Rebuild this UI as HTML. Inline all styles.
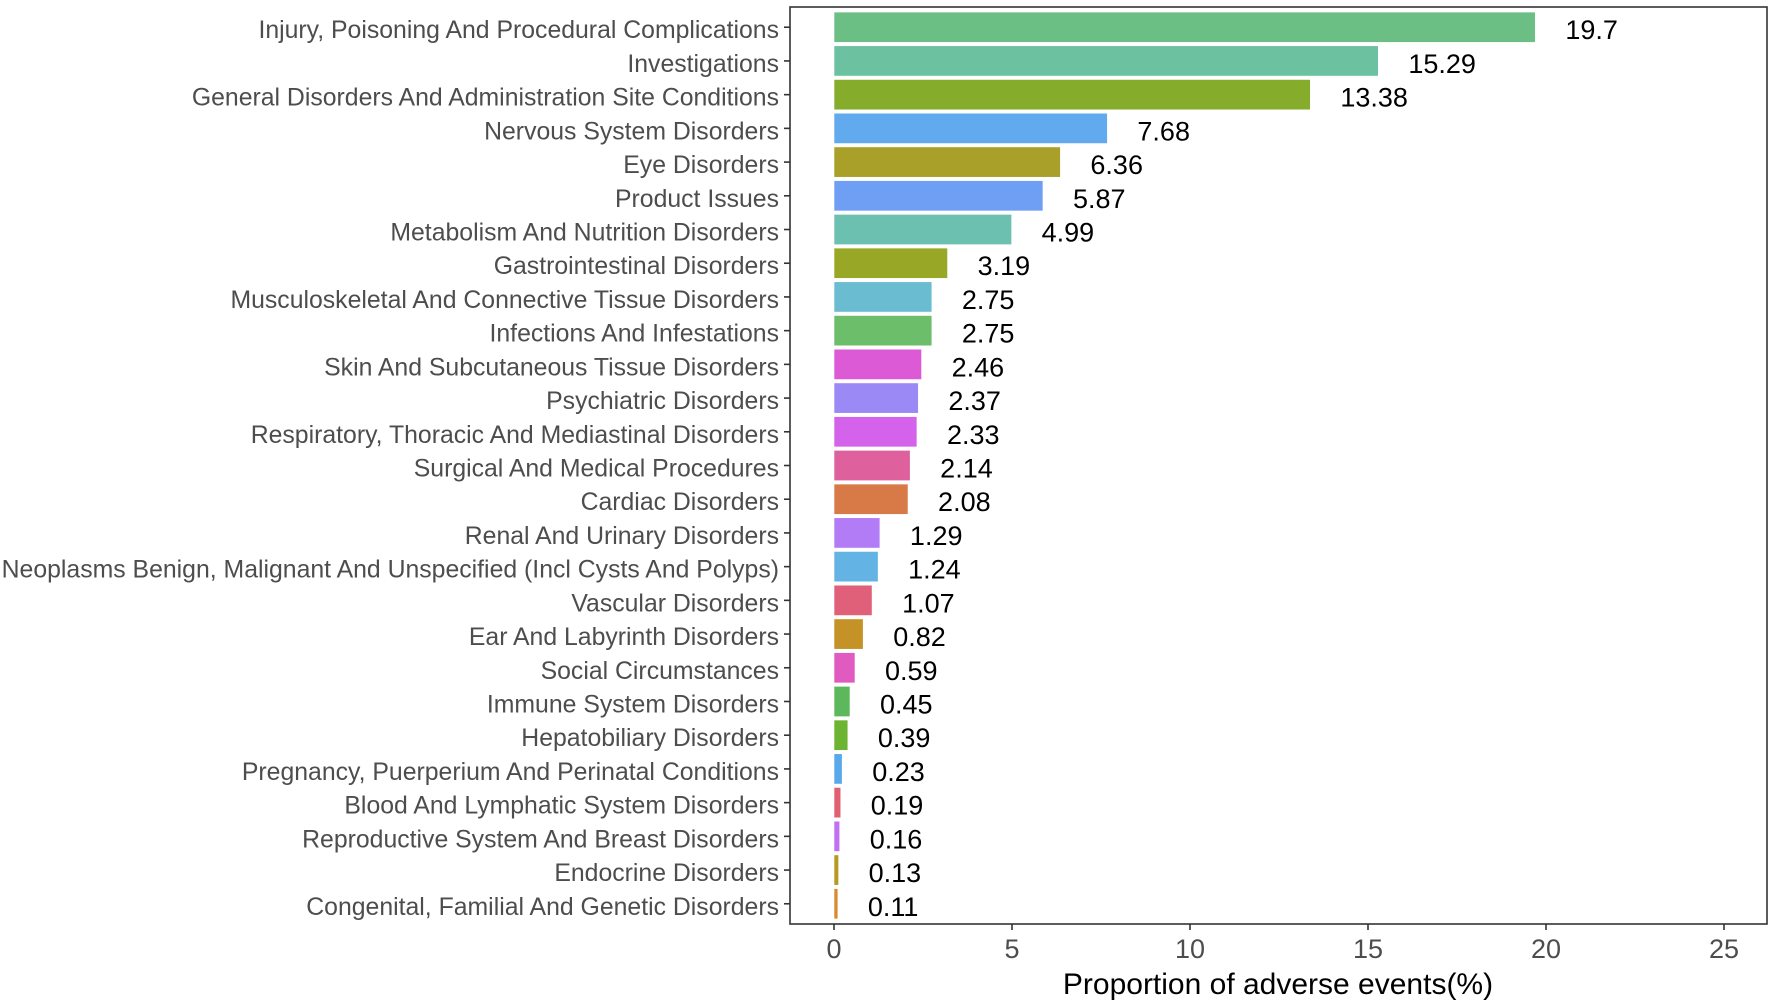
<!DOCTYPE html>
<html><head><meta charset="utf-8"><style>
html,body{margin:0;padding:0;background:#fff;}
svg{display:block;font-family:"Liberation Sans",sans-serif;}
</style></head><body>
<svg id="chart" width="1772" height="1007">
<rect x="790" y="7" width="977" height="917" fill="none" stroke="#333" stroke-width="1.6"/>
<g id="bars"></g><g id="xaxis"></g>
<text x="1278" y="994" font-size="30" text-anchor="middle" fill="#000">Proportion of adverse events(%)</text>
</svg>
<script>
const categories=["Injury, Poisoning And Procedural Complications","Investigations","General Disorders And Administration Site Conditions","Nervous System Disorders","Eye Disorders","Product Issues","Metabolism And Nutrition Disorders","Gastrointestinal Disorders","Musculoskeletal And Connective Tissue Disorders","Infections And Infestations","Skin And Subcutaneous Tissue Disorders","Psychiatric Disorders","Respiratory, Thoracic And Mediastinal Disorders","Surgical And Medical Procedures","Cardiac Disorders","Renal And Urinary Disorders","Neoplasms Benign, Malignant And Unspecified (Incl Cysts And Polyps)","Vascular Disorders","Ear And Labyrinth Disorders","Social Circumstances","Immune System Disorders","Hepatobiliary Disorders","Pregnancy, Puerperium And Perinatal Conditions","Blood And Lymphatic System Disorders","Reproductive System And Breast Disorders","Endocrine Disorders","Congenital, Familial And Genetic Disorders"];
const values=[19.7,15.29,13.38,7.68,6.36,5.87,4.99,3.19,2.75,2.75,2.46,2.37,2.33,2.14,2.08,1.29,1.24,1.07,0.82,0.59,0.45,0.39,0.23,0.19,0.16,0.13,0.11];
const valueLabels=["19.7","15.29","13.38","7.68","6.36","5.87","4.99","3.19","2.75","2.75","2.46","2.37","2.33","2.14","2.08","1.29","1.24","1.07","0.82","0.59","0.45","0.39","0.23","0.19","0.16","0.13","0.11"];
const colors=["#6cbf84","#6cc2a0","#86ac2c","#62aaee","#a8a028","#6f9ef5","#6cc0b0","#98a826","#6abdd0","#6cbe6a","#dc5ad6","#9b8af5","#d462ea","#de609c","#d87a48","#b17cf5","#63b4e4","#e0607a","#c49226","#e05ac0","#5cb85a","#6cb432","#5aa8ec","#e06070","#c070f0","#b89a20","#d88a30"];
const xTicks=[0,5,10,15,20,25];
const xTickLabels=["0","5","10","15","20","25"];
const NS="http://www.w3.org/2000/svg";
const x=v=>834+v*35.6;
const n=categories.length;
const y=i=>7+(917)*(i+0.6)/(n+0.2);
const step=917/(n+0.2);
const bars=document.getElementById('bars');
function mk(tag,attrs,parent){const e=document.createElementNS(NS,tag);for(const k in attrs)e.setAttribute(k,attrs[k]);parent.appendChild(e);return e;}
categories.forEach((c,i)=>{
  const cy=y(i),h=step*0.9;
  const r=mk('rect',{x:x(0),y:cy-h/2,width:x(values[i])-x(0),height:h,fill:colors[i],stroke:'#fff','stroke-width':0.6},bars);
  
  
  const t=mk('text',{x:x(values[i])+30,y:cy+12,'font-size':27,fill:'#000'},bars);
  t.textContent=valueLabels[i];
  
  
  const l=mk('text',{x:779,y:cy+11,'font-size':24.8,'text-anchor':'end',fill:'#4d4d4d'},bars);
  l.textContent=c;
  
  
  const tk=mk('line',{x1:784,x2:790,y1:cy,y2:cy,stroke:'#333','stroke-width':1.6},bars);
  
  
});
const xa=document.getElementById('xaxis');
xTicks.forEach((v,i)=>{
  const tk=mk('line',{x1:x(v),x2:x(v),y1:924,y2:930,stroke:'#333','stroke-width':1.6},xa);
  
  
  const t=mk('text',{x:x(v),y:958,'font-size':27,'text-anchor':'middle',fill:'#4d4d4d'},xa);
  t.textContent=xTickLabels[i];
  
  
});
</script>
</body></html>
